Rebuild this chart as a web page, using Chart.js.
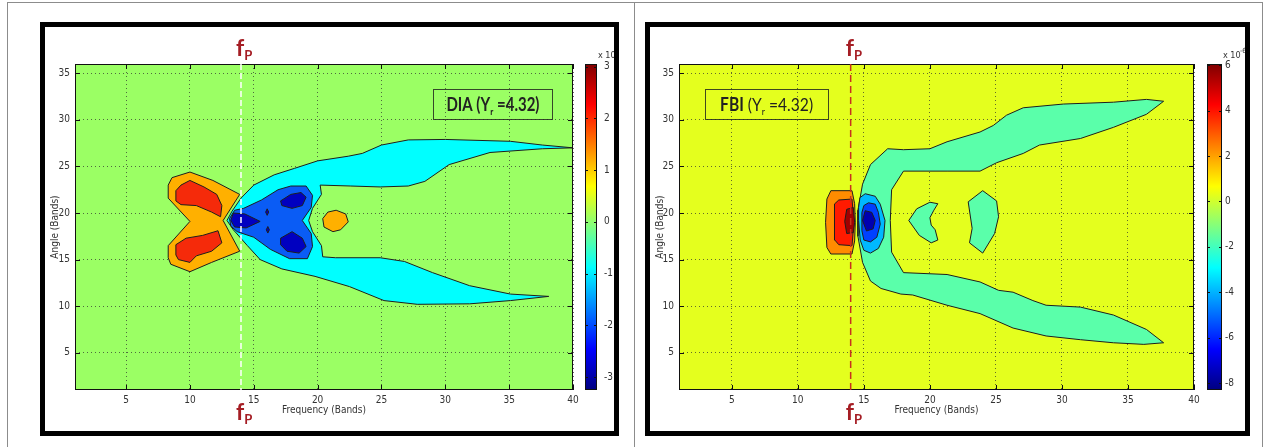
<!DOCTYPE html>
<html>
<head>
<meta charset="utf-8">
<script src="https://cdn.jsdelivr.net/npm/chart.js@4.4.1/dist/chart.umd.min.js"></script>
<style>
  html, body { margin: 0; padding: 0; background: #fff; }
  body { width: 1266px; height: 447px; position: relative; overflow: hidden; }
  .cell { position: absolute; border: 1px solid #8c8c8c; }
  .frame { position: absolute; border: 5px solid #000; background: #fff; }
  .frame canvas { display: block; }
</style>
</head>
<body>
<div class="cell" style="left:7px;top:2px;width:626px;height:470px"></div>
<div class="cell" style="left:634px;top:2px;width:627px;height:470px"></div>
<div class="frame" style="left:40px;top:22px;width:569px;height:404px">
  <canvas id="dia" width="569" height="404" style="width:569px;height:404px"></canvas>
</div>
<div class="frame" style="left:645px;top:22px;width:595px;height:404px">
  <canvas id="fbi" width="595" height="404" style="width:595px;height:404px"></canvas>
</div>
<script>
// axes
const xTicks = [5, 10, 15, 20, 25, 30, 35, 40];
const yTicks = [5, 10, 15, 20, 25, 30, 35];
const diaBarTicks = [3, 2, 1, 0, -1, -2, -3];
const fbiBarTicks = [6, 4, 2, 0, -2, -4, -6, -8];
const diaRange = [-3.25, 3.05];
const fbiRange = [-8.3, 6.05];
const peakBand = 14;
const gammaR = 4.32;

// DIA contour regions, [frequency band, angle band]
const diaOrange = [[8.3,23.0],[8.6,23.8],[10.0,24.4],[11.8,23.5],[13.9,22.0],[12.6,19.2],[13.9,15.9],[11.7,14.7],[10.0,13.7],[8.5,14.5],[8.3,15.2],[8.3,16.5],[10.0,19.1],[8.3,21.6]];
const diaRedUpper = [[8.9,22.4],[9.3,23.0],[10.0,23.5],[11.1,22.8],[12.1,22.0],[12.5,20.8],[12.4,19.6],[11.7,20.1],[10.5,20.8],[9.3,20.9],[8.9,21.3]];
const diaRedLower = [[8.9,16.6],[9.7,17.3],[11.0,17.6],[12.2,18.1],[12.5,16.8],[11.7,15.9],[10.5,15.4],[10.0,14.7],[9.1,15.0],[8.9,15.5]];
const diaCyan = [
  [12.9,19.2],[13.3,20.2],[14.0,21.6],[15.0,23.0],[16.6,24.1],[18.2,24.8],[20.0,25.6],[22.4,26.1],[23.5,26.4],[25.0,27.3],[27.1,27.85],[30.0,27.9],[35.1,27.7],[37.6,27.3],[40.0,27.0],
  [37.6,26.9],[33.5,26.5],[30.3,25.2],[28.4,23.4],[27.1,22.9],[24.9,22.8],[22.6,22.9],[20.2,23.0],[20.3,22.0],[19.6,20.5],[19.3,19.2],[19.6,18.0],[20.3,16.5],[20.4,15.3],
  [21.4,15.2],[24.9,15.2],[26.8,14.8],[29.0,13.6],[31.9,12.2],[35.1,11.3],[38.1,11.05],
  [35.1,10.6],[31.9,10.25],[27.8,10.2],[25.2,10.6],[22.5,12.1],[19.8,13.2],[17.2,14.0],[15.5,15.0],[14.5,16.5],[13.4,18.2]
];
const diaBlue = [[13.1,19.4],[13.5,20.3],[14.2,20.5],[15.6,21.4],[16.9,22.5],[17.9,22.9],[19.1,22.9],[19.6,21.9],[19.5,20.6],[18.8,19.2],[19.5,17.8],[19.6,16.4],[19.2,15.1],[17.8,15.1],[16.3,16.1],[15.0,17.4],[13.7,18.0],[13.2,18.6]];
const diaDarkLeft = [[13.4,20.0],[14.3,19.9],[15.5,19.1],[14.4,18.4],[13.5,18.5],[13.2,19.2]];
const diaDarkUpper = [[17.1,21.3],[17.9,22.0],[18.7,22.2],[19.1,21.7],[18.8,20.8],[18.0,20.5],[17.2,20.8]];
const diaDarkLower = [[17.1,17.3],[18.0,18.0],[18.8,17.3],[19.1,16.4],[18.55,15.7],[17.6,15.9],[17.1,16.6]];
const diaDarkDotA = [[16.05,20.45],[16.17,20.1],[16.05,19.75],[15.93,20.1]];
const diaDarkDotB = [[16.1,18.55],[16.22,18.2],[16.1,17.85],[15.98,18.2]];
const diaOrangeBlob = [[20.4,19.4],[20.8,20.1],[21.45,20.3],[22.2,19.9],[22.4,19.05],[21.8,18.2],[21.2,18.0],[20.5,18.5]];

// FBI contour regions
const fbiTeal = [
  [16.8,26.9],[15.5,25.2],[14.9,23.1],[14.55,20.3],[14.55,17.5],[14.9,14.7],[15.5,12.7],[16.3,11.9],[17.8,11.3],[18.7,11.2],[21.3,10.1],[23.8,9.2],[26.3,7.65],[28.8,6.8],[31.4,6.4],[33.9,6.07],[36.2,5.9],[37.7,6.07],
  [36.4,7.5],[33.9,9.05],[31.4,9.9],[28.8,10.1],[27.8,10.6],[26.3,11.5],[25.2,11.7],[23.8,12.6],[21.3,13.4],[18.0,13.6],
  [17.1,15.8],[17.0,19.2],[17.1,22.5],[18.0,24.5],
  [21.3,24.5],[23.8,24.5],[25.05,25.4],[27.07,26.4],[28.3,27.3],[31.4,28.0],[33.9,29.2],[36.4,30.6],[37.7,32.0],
  [36.4,32.2],[33.9,31.9],[30.1,31.7],[27.07,31.3],[25.8,30.5],[24.8,29.4],[23.8,28.7],[21.3,27.65],[20.0,26.9],[18.0,26.8]
];
const fbiTealCrescent = [[18.4,19.2],[19.0,20.45],[20.0,21.16],[20.6,21.0],[20.3,20.3],[20.0,19.5],[20.1,18.7],[20.4,18.2],[20.6,17.1],[20.1,16.8],[19.2,17.6]];
const fbiTealIsland = [[22.9,21.2],[24.0,22.4],[25.05,21.3],[25.2,19.6],[24.9,17.8],[24.0,15.7],[23.0,16.8],[23.2,18.35]];
const fbiOrange = [[12.2,21.5],[12.5,22.4],[14.1,22.4],[14.3,21.0],[14.35,19.0],[14.3,17.0],[14.1,15.6],[12.5,15.6],[12.2,16.3],[12.1,19.0]];
const fbiRed = [[12.8,21.0],[13.1,21.4],[14.1,21.5],[14.25,19.0],[14.1,16.5],[13.1,16.6],[12.8,17.1],[12.75,19.0]];
const fbiDarkRed = [[13.7,20.4],[14.2,20.6],[14.3,19.0],[14.2,17.9],[13.7,17.8],[13.55,19.1]];
const fbiLightBlue = [[14.7,21.65],[15.1,22.07],[15.86,21.8],[16.24,20.95],[16.6,19.2],[16.5,17.4],[16.1,16.2],[15.5,15.7],[15.0,16.0],[14.72,17.1],[14.6,19.2],[14.6,20.6]];
const fbiBlue = [[14.85,20.07],[15.0,20.8],[15.35,21.1],[15.86,20.95],[16.1,20.07],[16.24,18.8],[15.98,17.4],[15.5,16.9],[15.0,17.1],[14.85,18.1]];
const fbiDarkBlue = [[15.1,20.25],[15.6,20.07],[15.86,19.2],[15.7,18.3],[15.2,18.07],[14.9,19.2]];

const jetStops = [[0, '#00007f'], [0.125, '#0000ff'], [0.375, '#00ffff'], [0.625, '#ffff00'], [0.875, '#ff0000'], [1, '#7f0000']];
const narrowFamily = "'Liberation Sans Narrow', 'DejaVu Sans Condensed', 'Arial Narrow', Roboto, sans-serif";
const tickFont = { family: narrowFamily, size: 10 };
const labelFont = "Lato, 'Noto Sans', sans-serif";

// outer regions first, inner ones on top
function polygonSets(list) {
  return list.map(([pts, color], i) => ({
    data: pts.concat([pts[0]]).map(([x, y]) => ({ x, y })),
    backgroundColor: color,
    borderColor: '#1e1e1e',
    borderWidth: 1,
    pointRadius: 0,
    showLine: true,
    tension: 0,
    order: list.length - i
  }));
}

const contourFill = {
  id: 'contourFill',
  beforeDraw(chart, args, opts) {
    const { ctx, chartArea: a } = chart;
    ctx.save();
    ctx.fillStyle = opts.background;
    ctx.fillRect(a.left, a.top, a.width, a.height);
    ctx.restore();
  },
  beforeDatasetDraw(chart, args) {
    const { ctx, chartArea: a } = chart;
    const ds = chart.data.datasets[args.index];
    ctx.save();
    ctx.beginPath();
    ctx.rect(a.left, a.top, a.width, a.height);
    ctx.clip();
    ctx.beginPath();
    args.meta.data.forEach((p, i) => i ? ctx.lineTo(p.x, p.y) : ctx.moveTo(p.x, p.y));
    ctx.closePath();
    ctx.fillStyle = ds.backgroundColor;
    ctx.fill();
    ctx.restore();
  }
};

function drawRich(ctx, parts, cx, baseline, width) {
  let total = 0;
  parts.forEach(p => { ctx.font = p.font; p.w = ctx.measureText(p.text).width; total += p.w; });
  const k = Math.min(1, width / total);
  ctx.save();
  ctx.translate(cx - total * k / 2, baseline);
  ctx.scale(k, 1);
  let x = 0;
  parts.forEach(p => { ctx.font = p.font; ctx.fillText(p.text, x, p.dy || 0); x += p.w; });
  ctx.restore();
}

const panelDecor = {
  id: 'panelDecor',
  afterDraw(chart, args, opts) {
    const { ctx, chartArea: a, scales } = chart;
    const sx = scales.x, sy = scales.y, cb = scales.cb;
    ctx.save();

    // axes box with inward ticks
    ctx.strokeStyle = '#111';
    ctx.lineWidth = 1;
    ctx.strokeRect(a.left + 0.5, a.top + 0.5, a.width - 1, a.height - 1);
    ctx.beginPath();
    xTicks.forEach(v => {
      const px = Math.round(sx.getPixelForValue(v)) + 0.5;
      ctx.moveTo(px, a.bottom); ctx.lineTo(px, a.bottom - 5);
      ctx.moveTo(px, a.top); ctx.lineTo(px, a.top + 5);
    });
    yTicks.forEach(v => {
      const py = Math.round(sy.getPixelForValue(v)) + 0.5;
      ctx.moveTo(a.left, py); ctx.lineTo(a.left + 5, py);
      ctx.moveTo(a.right, py); ctx.lineTo(a.right - 5, py);
    });
    ctx.stroke();

    // colorbar
    const bx = a.right + opts.barGap, bw = opts.barWidth;
    const grad = ctx.createLinearGradient(0, cb.bottom, 0, cb.top);
    jetStops.forEach(([t, c]) => grad.addColorStop(t, c));
    ctx.fillStyle = grad;
    ctx.fillRect(bx, cb.top, bw, cb.bottom - cb.top);
    ctx.strokeStyle = '#111';
    ctx.strokeRect(bx + 0.5, cb.top + 0.5, bw - 1, cb.bottom - cb.top - 1);
    ctx.beginPath();
    opts.barTicks.forEach(v => {
      const py = Math.round(cb.getPixelForValue(v)) + 0.5;
      ctx.moveTo(bx, py); ctx.lineTo(bx + 3, py);
      ctx.moveTo(bx + bw, py); ctx.lineTo(bx + bw - 3, py);
    });
    ctx.stroke();
    ctx.fillStyle = '#333';
    ctx.textBaseline = 'alphabetic';
    ctx.textAlign = 'left';
    ctx.font = '9px ' + narrowFamily;
    ctx.fillText('x 10', bx + bw + 1, cb.top - 6);
    if (opts.exponent) {
      ctx.font = '7px ' + narrowFamily;
      ctx.fillText(opts.exponent, bx + bw + 18, cb.top - 11);
    }

    // peak band marker
    const fx = sx.getPixelForValue(peakBand);
    ctx.strokeStyle = opts.peakColor;
    ctx.lineWidth = 1.5;
    ctx.setLineDash(opts.peakDash);
    ctx.beginPath();
    ctx.moveTo(fx, a.top);
    ctx.lineTo(fx, a.bottom);
    ctx.stroke();
    ctx.setLineDash([]);
    ctx.fillStyle = '#a51d24';
    [a.top - 8, a.bottom + 30].forEach(base => {
      ctx.font = 'bold 23px ' + labelFont;
      ctx.fillText('f', fx - 5, base);
      const w = ctx.measureText('f').width;
      ctx.font = 'bold 13px ' + labelFont;
      ctx.fillText('P', fx - 5 + w, base + 4);
    });

    // annotation box
    const b = opts.box;
    const x0 = sx.getPixelForValue(b.x0), x1 = sx.getPixelForValue(b.x1);
    const y0 = sy.getPixelForValue(b.y0), y1 = sy.getPixelForValue(b.y1);
    ctx.strokeStyle = 'rgba(35,40,30,0.85)';
    ctx.lineWidth = 1;
    ctx.strokeRect(Math.round(x0) + 0.5, Math.round(y0) + 0.5, Math.round(x1 - x0), Math.round(y1 - y0));
    ctx.fillStyle = '#222';
    const rest = (opts.restBold ? 'bold ' : '') + '18px ' + labelFont;
    drawRich(ctx, [
      { text: opts.name, font: 'bold 18px ' + labelFont },
      { text: ' (\u03A5', font: rest },
      { text: 'r', font: (opts.restBold ? 'bold ' : '') + '10px ' + labelFont, dy: 4 },
      { text: ' =' + gammaR.toFixed(2) + ')', font: rest }
    ], (x0 + x1) / 2, (y0 + y1) / 2 + 7, opts.textWidth);

    ctx.restore();
  }
};

function makePanel(id, cfg) {
  const gridColor = 'rgba(45,45,45,0.7)';
  return new Chart(document.getElementById(id), {
    type: 'scatter',
    data: { datasets: polygonSets(cfg.regions) },
    options: {
      responsive: false,
      animation: false,
      events: [],
      layout: { padding: { top: 30, left: 0, right: 0, bottom: 0 } },
      plugins: {
        legend: { display: false },
        tooltip: { enabled: false },
        contourFill: { background: cfg.background },
        panelDecor: cfg.decor
      },
      scales: {
        x: {
          type: 'linear', min: 1, max: 40, z: 1,
          afterBuildTicks: s => { s.ticks = xTicks.map(v => ({ value: v })); },
          afterFit: s => { s.height = 41; },
          grid: { color: gridColor, lineWidth: 1, drawTicks: false },
          border: { display: false, dash: [1, 3] },
          ticks: { padding: 4, color: '#333', font: tickFont, maxRotation: 0, autoSkip: false },
          title: { display: true, text: 'Frequency (Bands)', color: '#333', font: tickFont, padding: { top: 0, bottom: 15 } }
        },
        y: {
          type: 'linear', min: 1, max: 36, z: 1,
          afterBuildTicks: s => { s.ticks = yTicks.map(v => ({ value: v })); },
          afterFit: s => { s.width = cfg.yWidth; },
          grid: { color: gridColor, lineWidth: 1, drawTicks: false },
          border: { display: false, dash: [1, 3] },
          ticks: { padding: 5, color: '#333', font: tickFont, autoSkip: false },
          title: { display: true, text: 'Angle (Bands)', color: '#333', font: tickFont, padding: { top: 4, bottom: 0 } }
        },
        cb: {
          type: 'linear', position: 'right', min: cfg.range[0], max: cfg.range[1],
          afterBuildTicks: s => { s.ticks = cfg.decor.barTicks.map(v => ({ value: v })); },
          afterFit: s => { s.width = cfg.barAxisWidth; },
          grid: { display: false, drawOnChartArea: false, drawTicks: false },
          border: { display: false },
          ticks: { padding: 31, color: '#333', font: tickFont, autoSkip: false }
        }
      }
    },
    plugins: [contourFill, panelDecor]
  });
}

makePanel('dia', {
  background: '#9bff64',
  range: diaRange,
  yWidth: 30,
  barAxisWidth: 41,
  regions: [
    [diaCyan, '#00ffff'],
    [diaBlue, '#0a5cf5'],
    [diaDarkLeft, '#0000c0'],
    [diaDarkUpper, '#0000c0'],
    [diaDarkLower, '#0000c0'],
    [diaDarkDotA, '#0000c0'],
    [diaDarkDotB, '#0000c0'],
    [diaOrange, '#ffb000'],
    [diaRedUpper, '#f52a0a'],
    [diaRedLower, '#f52a0a'],
    [diaOrangeBlob, '#ffb000']
  ],
  decor: {
    barTicks: diaBarTicks, barGap: 12, barWidth: 12, exponent: '',
    peakColor: '#ffffff', peakDash: [6, 3],
    box: { x0: 29.06, x1: 38.4, y0: 33.34, y1: 30.08 },
    name: 'DIA', restBold: true, textWidth: 93
  }
});

makePanel('fbi', {
  background: '#e4ff1e',
  range: fbiRange,
  yWidth: 29,
  barAxisWidth: 51,
  regions: [
    [fbiTeal, '#5affaa'],
    [fbiTealCrescent, '#5affaa'],
    [fbiTealIsland, '#5affaa'],
    [fbiOrange, '#ff8c00'],
    [fbiRed, '#ff1a00'],
    [fbiDarkRed, '#a00000'],
    [fbiLightBlue, '#00b8ff'],
    [fbiBlue, '#0040ff'],
    [fbiDarkBlue, '#0000b0']
  ],
  decor: {
    barTicks: fbiBarTicks, barGap: 13, barWidth: 15, exponent: '-6',
    peakColor: '#c8321e', peakDash: [7, 4],
    box: { x0: 2.97, x1: 12.29, y0: 33.34, y1: 30.08 },
    name: 'FBI', restBold: false, textWidth: 93
  }
});
</script>
</body>
</html>
